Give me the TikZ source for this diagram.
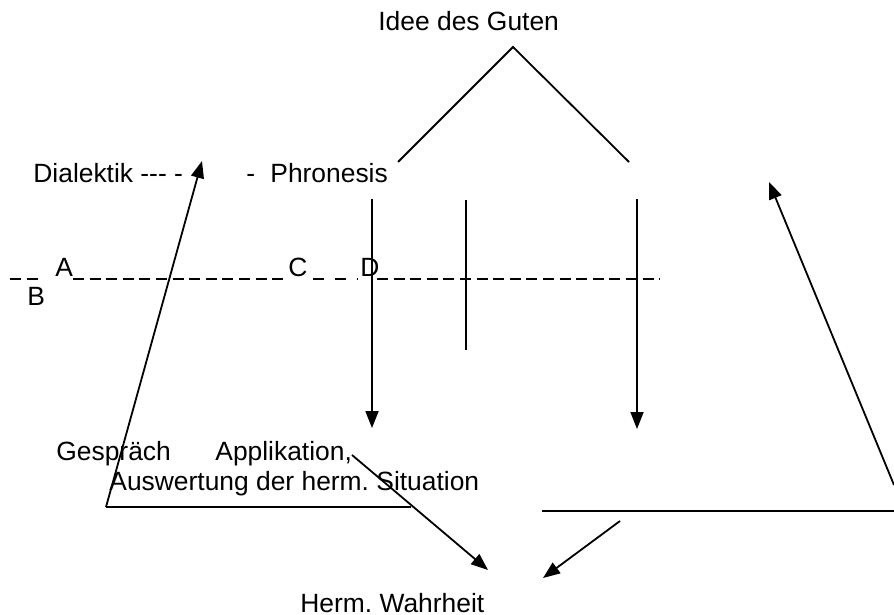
\documentclass[tikz,border=0pt]{standalone}
\usepackage{fontspec}
\setmainfont{Liberation Sans}
\usetikzlibrary{arrows.meta}
\frenchspacing
\begin{document}
\begin{tikzpicture}[x=0.5pt,y=-0.5pt,
  txt/.style={anchor=base west,inner sep=0pt,font=\fontsize{13.2pt}{15pt}\selectfont},
  ln/.style={line width=0.9pt},
  arr/.style={ln,-{Triangle[length=8.5pt,width=6.5pt]}},
  dsh/.style={line width=0.65pt,dash pattern=on 5.5pt off 2.8pt}]
\useasboundingbox (0,0) rectangle (894,615);
% texts
\node[txt] (idee) at (378,31) {Idee des Guten};
\node[txt] (dial) at (33,183) {Dialektik -\kern0pt-\kern0pt- -};
\node[txt] (hy) at (246,183) {-};
\node[txt] (phr) at (270,183) {Phronesis};
\node[txt] (A) at (55,276) {A};
\node[txt] (B) at (27,305) {B};
\node[txt] (C) at (288,276) {C};
\node[txt] (D) at (360,276) {D};
\node[txt] (gesp) at (56,460) {Gespräch};
\node[txt] (appl) at (215,460) {Applikation,};
\node[txt] (ausw) at (109,490) {Auswertung der herm.\ Situation};
\node[txt] (herm) at (300,612) {Herm.\ Wahrheit};
% coordinates
\coordinate (peak) at (513,47);
\coordinate (roofL) at (398,162);
\coordinate (roofR) at (629,162);
\coordinate (v1s) at (372,199);
\coordinate (v1e) at (372,428);
\coordinate (m1) at (466,200);
\coordinate (m2) at (466,350);
\coordinate (v2s) at (637,199);
\coordinate (v2e) at (637,429);
\coordinate (lb) at (106,507);
\coordinate (lt) at (202,161);
\coordinate (lr) at (411,507);
\coordinate (ds) at (352,455);
\coordinate (de) at (488,570);
\coordinate (rh1) at (542,511);
\coordinate (rh2) at (894,511);
\coordinate (sa) at (620,521);
\coordinate (sb) at (543,578);
\coordinate (rb) at (894,485);
\coordinate (rt) at (769,182);
\coordinate (d1a) at (10,279);
\coordinate (d1b) at (38,279);
\coordinate (d2a) at (73,279);
\coordinate (d2b) at (288,279);
\coordinate (d3a) at (313,279);
\coordinate (d3b) at (358,279);
\coordinate (d4a) at (377,279);
\coordinate (d4b) at (660,279);
% dashed line
\draw[dsh] (d1a) -- (d1b);
\draw[dsh] (d2a) -- (d2b);
\draw[dsh,dash pattern=on 5.5pt off 5.5pt] (d3a) -- (d3b);
\draw[dsh] (d4a) -- (d4b);
% lines
\draw[ln] (roofL) -- (peak) -- (roofR);
\draw[arr] (v1s) -- (v1e);
\draw[ln] (m1) -- (m2);
\draw[arr] (v2s) -- (v2e);
\draw[arr] (lb) -- (lt);
\draw[ln] (lb) -- (lr);
\draw[arr] (ds) -- (de);
\draw[ln] (rh1) -- (rh2);
\draw[arr] (sa) -- (sb);
\draw[arr] (rb) -- (rt);
\end{tikzpicture}
\end{document}
